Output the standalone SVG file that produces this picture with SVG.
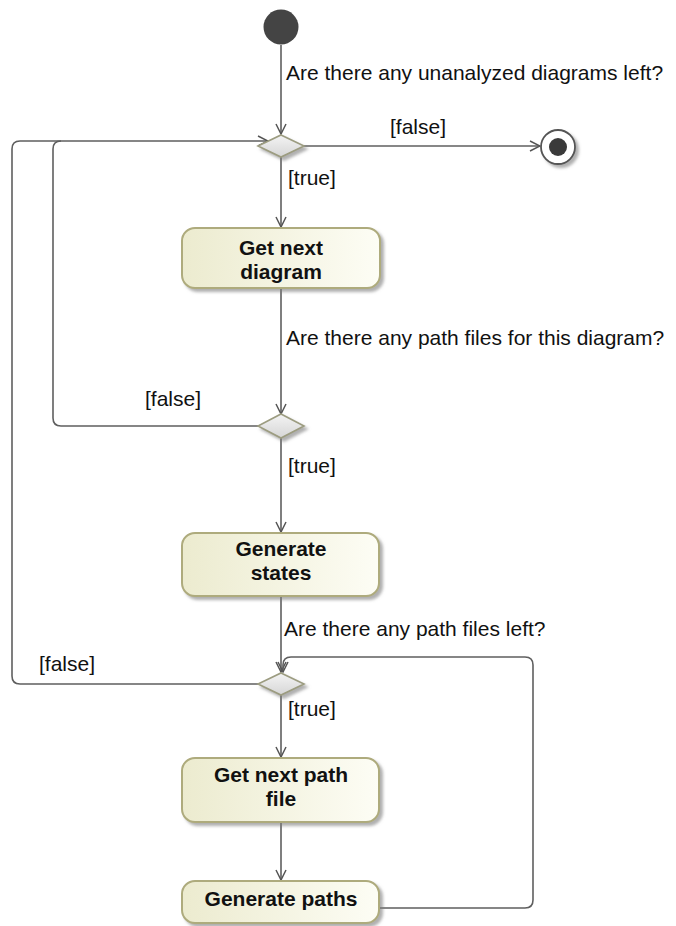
<svg xmlns="http://www.w3.org/2000/svg" width="676" height="926" viewBox="0 0 676 926">
  <defs>
    <linearGradient id="actionFill" x1="0" y1="0" x2="1" y2="0">
      <stop offset="0" stop-color="#ecebcf"/>
      <stop offset="1" stop-color="#fdfdf5"/>
    </linearGradient>
    <linearGradient id="decisionFill" x1="0" y1="0" x2="0" y2="1">
      <stop offset="0" stop-color="#f4f4f4"/>
      <stop offset="1" stop-color="#d6d6d6"/>
    </linearGradient>
    <filter id="shadow" x="-20%" y="-20%" width="150%" height="160%">
      <feDropShadow dx="3" dy="3" stdDeviation="1.5" flood-color="#7a7a7a" flood-opacity="0.6"/>
    </filter>
    <marker id="arrow" viewBox="0 0 12 12" refX="11" refY="6" markerWidth="12" markerHeight="12" orient="auto" markerUnits="userSpaceOnUse">
      <path d="M1,1 L11,6 L1,11" fill="none" stroke="#555" stroke-width="1.5"/>
    </marker>
  </defs>
  <style>
    .edge { fill: none; stroke: #5f5f5f; stroke-width: 1.6; }
    .label { font-family: "Liberation Sans", Arial, sans-serif; font-size: 21px; fill: #111; }
    .action rect { fill: url(#actionFill); stroke: #aeab7d; stroke-width: 2; filter: url(#shadow); }
    .action text { font-family: "Liberation Sans", Arial, sans-serif; font-size: 21px; font-weight: bold; fill: #111; text-anchor: middle; }
    .decision polygon { fill: url(#decisionFill); stroke: #9c9c80; stroke-width: 1.6; filter: url(#shadow); }
  </style>

  <!-- connectors -->
  <g id="connectors">
    <path class="edge" d="M281,45 V134" marker-end="url(#arrow)"/>
    <path class="edge" d="M304,146 H540" marker-end="url(#arrow)"/>
    <path class="edge" d="M281,157 V227" marker-end="url(#arrow)"/>
    <path class="edge" d="M281,288 V414" marker-end="url(#arrow)"/>
    <path class="edge" d="M258,426 H61 Q53,426 53,418 V149 Q53,141 61,141"/>
    <path class="edge" d="M258,684 H20 Q12,684 12,676 V149 Q12,141 20,141 H268" marker-end="url(#arrow)"/>
    <path class="edge" d="M281,438 V532" marker-end="url(#arrow)"/>
    <path class="edge" d="M281,596 V672" marker-end="url(#arrow)"/>
    <path class="edge" d="M281,695 V757" marker-end="url(#arrow)"/>
    <path class="edge" d="M281,822 V880" marker-end="url(#arrow)"/>
    <path class="edge" d="M380,908 H525 Q533,908 533,900 V665 Q533,657 525,657 H291 Q283,657 283,665 V672" marker-end="url(#arrow)"/>

    <text class="label" x="286" y="80">Are there any unanalyzed diagrams left?</text>
    <text class="label" x="390" y="134">[false]</text>
    <text class="label" x="288" y="185">[true]</text>
    <text class="label" x="286" y="345">Are there any path files for this diagram?</text>
    <text class="label" x="145" y="406">[false]</text>
    <text class="label" x="288" y="473">[true]</text>
    <text class="label" x="284" y="636">Are there any path files left?</text>
    <text class="label" x="39" y="671">[false]</text>
    <text class="label" x="288" y="716">[true]</text>
  </g>

  <!-- start -->
  <g id="initial">
    <circle cx="281" cy="27" r="17.5" fill="#444"/>
  </g>

  <!-- end -->
  <g id="final">
    <circle cx="558" cy="147" r="17" fill="#fff" stroke="#555" stroke-width="1.8" filter="url(#shadow)"/>
    <circle cx="558" cy="147" r="9" fill="#3a3a3a"/>
  </g>

  <g id="decision1" class="decision">
    <polygon points="281,135 304,146 281,157 258,146"/>
  </g>
  <g id="decision2" class="decision">
    <polygon points="281,414 304,426 281,438 258,426"/>
  </g>
  <g id="decision3" class="decision">
    <polygon points="281,673 304,684 281,695 258,684"/>
  </g>

  <g id="getNextDiagram" class="action">
    <rect x="182" y="228" width="198" height="60" rx="13"/>
    <text x="281" y="255">Get next</text>
    <text x="281" y="279">diagram</text>
  </g>

  <g id="generateStates" class="action">
    <rect x="182" y="533" width="197" height="63" rx="13"/>
    <text x="281" y="556">Generate</text>
    <text x="281" y="580">states</text>
  </g>

  <g id="getNextPathFile" class="action">
    <rect x="182" y="758" width="197" height="64" rx="13"/>
    <text x="281" y="782">Get next path</text>
    <text x="281" y="806">file</text>
  </g>

  <g id="generatePaths" class="action">
    <rect x="182" y="881" width="197" height="42" rx="13"/>
    <text x="281" y="906">Generate paths</text>
  </g>
</svg>
